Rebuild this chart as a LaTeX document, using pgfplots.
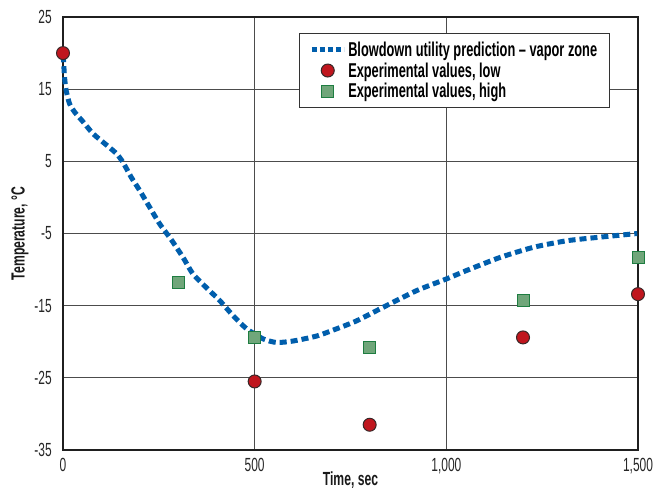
\documentclass[border=0pt]{standalone}
\usepackage{fontspec}
\setmainfont{Liberation Sans}
\newfontfamily\condlight{Liberation Sans}[FakeStretch=0.63]
\newfontfamily\condbold{Liberation Sans Bold}[FakeStretch=0.64]
\usepackage{pgfplots}
\pgfplotsset{compat=1.18}
\definecolor{lineblue}{RGB}{0,94,172}
\definecolor{redfill}{RGB}{192,22,30}
\definecolor{rededge}{RGB}{55,40,40}
\definecolor{greenfill}{RGB}{112,166,122}
\definecolor{greenedge}{RGB}{30,125,65}
\pgfplotsset{
  linelegend/.style={legend image code/.code={\draw[##1, dash pattern=on 5pt off 3pt] (0pt,0pt) -- (32pt,0pt);}},
  marklegend/.style={legend image code/.code={\draw[##1] plot coordinates {(16pt,0pt)};}},
}
\begin{document}
\begin{tikzpicture}
\path[use as bounding box] (-63pt,-46pt) rectangle (605pt,450pt);
\begin{axis}[
  at={(0pt,0pt)}, anchor=south west,
  scale only axis, width=575pt, height=433pt,
  xmin=0, xmax=1500, ymin=-35, ymax=25,
  clip=false,
  xtick={0,500,1000,1500},
  xticklabels={0,500,{1,000},{1,500}},
  ytick={-35,-25,-15,-5,5,15,25},
  yticklabels={-35,-25,-15,-5,5,15,25},
  major tick length=0pt,
  tick label style={font=\fontsize{19}{20}\selectfont\condlight, text=black!85},
  yticklabel style={anchor=east, inner sep=0pt, xshift=-11pt},
  xticklabel style={anchor=north, inner sep=0pt, yshift=-8pt},
  grid=major,
  major grid style={line width=1pt, color=black!70},
  axis line style={line width=1.5pt, color=black!88},
  xlabel={Time, sec},
  ylabel={Temperature, °C},
  label style={font=\fontsize{19}{20}\selectfont\condbold, text=black!90},
  xlabel style={at={(axis description cs:0.5,0)}, anchor=center, yshift=-30pt},
  ylabel style={at={(axis description cs:0,0.5)}, anchor=center, rotate=0, yshift=43pt},
  legend style={at={(rel axis cs:0.41,0.963)}, anchor=north west,
    draw=black!80, line width=1pt, fill=white,
    font=\fontsize{20}{20}\selectfont\condbold,
    inner xsep=10pt, inner ysep=6pt, row sep=1pt},
  legend cell align=left,
]
\addplot[color=lineblue, line width=5pt, dash pattern=on 7pt off 4pt, smooth, tension=0.4, linelegend]
coordinates {
(0,19.7) (1.3,19.0) (4,16.7) (8,14.9) (17,13.0) (30,11.85) (52,10.5) (78,8.85)
(108,7.5) (139,6.1) (156,4.9) (178,2.8) (200,0.97) (226,-1.35) (252,-3.65)
(283,-5.9) (313,-8.3) (339,-10.6) (374,-12.5) (409,-14.3)
(444,-16.4) (479,-18.2) (522,-19.6) (557,-20.1) (600,-19.9) (662,-19.2)
(714,-18.2) (766,-17.1) (836,-15.2) (923,-12.9) (1000,-11.3) (1054,-10.1)
(1141,-8.3) (1228,-6.9) (1315,-6) (1402,-5.5) (1498,-5)
};
\addlegendentry{Blowdown utility prediction – vapor zone}
\addplot[only marks, mark=*, mark size=6.5pt, mark options={fill=redfill, draw=rededge, line width=1pt}, marklegend]
coordinates {(0,20) (500,-25.5) (800,-31.5) (1200,-19.4) (1500,-13.4)};
\addlegendentry{Experimental values, low}
\addplot[only marks, mark=square*, mark size=6pt, mark options={fill=greenfill, draw=greenedge, line width=1pt}, marklegend]
coordinates {(300,-11.85) (500,-19.4) (800,-20.8) (1200,-14.35) (1500,-8.3)};
\addlegendentry{Experimental values, high}
\end{axis}
\end{tikzpicture}
\end{document}
